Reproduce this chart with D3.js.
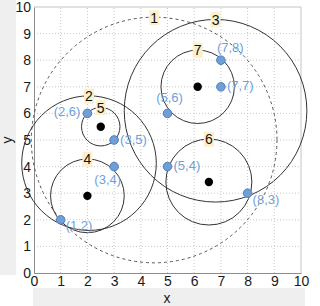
<!DOCTYPE html>
<html>
<head>
<meta charset="utf-8">
<script src="https://cdn.jsdelivr.net/npm/d3@7"></script>
<style>
  body { margin: 0; background: #fff; }
  svg { display: block; font-family: "Liberation Sans", Arial, sans-serif; }
</style>
</head>
<body>
<svg id="viz"></svg>
<script>
// points of the set
var pointX = [1, 2, 3, 3, 5, 5, 7, 7, 8];
var pointY = [2, 6, 5, 4, 6, 4, 8, 7, 3];
var pointSide = ['below-right', 'left', 'right', 'below', 'above', 'right', 'above-right', 'right', 'below-right'];

// circles, numbered in order
var circleId = [1, 2, 3, 4, 5, 6, 7];
var circleX = [4.5, 2.06, 6.8, 2.0, 2.5, 6.55, 6.13];
var circleY = [5.0, 4.13, 6.1, 2.9, 5.5, 3.42, 7.0];
var circleR = [4.6, 2.52, 3.42, 1.38, 0.72, 1.61, 1.375];
var withCenter = [4, 5, 6, 7];

var ticks = [0, 1, 2, 3, 4, 5, 6, 7, 8, 9, 10];

var width = 320, height = 306;
var margin = {top: 7, right: 19, bottom: 33, left: 34};

var svg = d3.select('#viz').attr('width', width).attr('height', height);

// grey strips around the panel
svg.append('rect').attr('x', 0).attr('y', 0).attr('width', 16).attr('height', 275).attr('fill', '#efefef');
svg.append('rect').attr('x', 33).attr('y', 288).attr('width', 272).attr('height', 18).attr('fill', '#efefef');

var x = d3.scaleLinear().domain([0, 10]).range([margin.left, width - margin.right]);
var y = d3.scaleLinear().domain([0, 10]).range([height - margin.bottom, margin.top]);
var unit = x(1) - x(0);

// grid
var grid = svg.append('g');
grid.selectAll('line.gx').data(ticks.slice(1, -1)).enter().append('line')
    .attr('x1', d => x(d)).attr('x2', d => x(d))
    .attr('y1', y(0)).attr('y2', y(10))
    .attr('stroke', '#c8c8c8').attr('stroke-dasharray', '1,2');
grid.selectAll('line.gy').data(ticks.slice(1, -1)).enter().append('line')
    .attr('y1', d => y(d)).attr('y2', d => y(d))
    .attr('x1', x(0)).attr('x2', x(10))
    .attr('stroke', '#c8c8c8').attr('stroke-dasharray', '1,2');

// panel border
svg.append('line').attr('x1', x(0)).attr('x2', x(10)).attr('y1', y(10)).attr('y2', y(10)).attr('stroke', '#c4c4c4');
svg.append('line').attr('x1', x(10)).attr('x2', x(10)).attr('y1', y(0)).attr('y2', y(10)).attr('stroke', '#c4c4c4');

var xAxis = svg.append('g').attr('transform', `translate(0,${y(0)})`)
    .call(d3.axisBottom(x).tickValues(ticks).tickSize(0).tickPadding(3));
var yAxis = svg.append('g').attr('transform', `translate(${x(0)},0)`)
    .call(d3.axisLeft(y).tickValues(ticks).tickSize(0).tickPadding(3));
[xAxis, yAxis].forEach(function(a){
    a.select('.domain').attr('stroke', '#8c8c8c');
    a.selectAll('text').attr('font-size', 14).attr('fill', '#1a1a1a').attr('font-family', '"Liberation Sans", Arial, sans-serif');
});

svg.append('text').attr('x', 167).attr('y', 303).attr('text-anchor', 'middle')
    .attr('font-size', 14).attr('fill', '#1a1a1a').text('x');
svg.append('text').attr('transform', `translate(12,${(y(0) + y(10)) / 2}) rotate(-90)`)
    .attr('text-anchor', 'middle').attr('font-size', 14).attr('fill', '#1a1a1a').text('y');

// circles
var circles = circleId.map((id, i) => ({id: id, cx: circleX[i], cy: circleY[i], r: circleR[i]}));
svg.append('g').selectAll('circle').data(circles).enter().append('circle')
    .attr('cx', d => x(d.cx)).attr('cy', d => y(d.cy)).attr('r', d => d.r * unit)
    .attr('fill', 'none')
    .attr('stroke', d => d.id === 1 ? '#555' : '#333')
    .attr('stroke-width', 1)
    .attr('stroke-dasharray', d => d.id === 1 ? '3,3' : null);

svg.append('g').selectAll('circle').data(circles.filter(d => withCenter.includes(d.id))).enter().append('circle')
    .attr('cx', d => x(d.cx)).attr('cy', d => y(d.cy)).attr('r', 4.2).attr('fill', '#000');

// points
var points = pointX.map((v, i) => ({x: v, y: pointY[i], side: pointSide[i]}));
svg.append('g').selectAll('circle').data(points).enter().append('circle')
    .attr('cx', d => x(d.x)).attr('cy', d => y(d.y)).attr('r', 4.3)
    .attr('fill', '#6f9fd6').attr('stroke', '#4f7fb8').attr('stroke-width', 1);

var place = {
    'left':        {dx: -7, dy: -2, anchor: 'end'},
    'right':       {dx: 6,  dy: -1, anchor: 'start'},
    'below':       {dx: 7,  dy: 13, anchor: 'end'},
    'below-right': {dx: 5,  dy: 6,  anchor: 'start'},
    'above':       {dx: 2,  dy: -16, anchor: 'middle'},
    'above-right': {dx: -4, dy: -13, anchor: 'start'}
};
svg.append('g').selectAll('text').data(points).enter().append('text')
    .attr('x', d => x(d.x) + place[d.side].dx)
    .attr('y', d => y(d.y) + place[d.side].dy)
    .attr('text-anchor', d => place[d.side].anchor)
    .attr('dominant-baseline', 'central')
    .attr('font-size', 13).attr('fill', '#6fa0da')
    .text(d => `(${d.x},${d.y})`);

// circle numbers at the top of each circle
var tags = svg.append('g').selectAll('g').data(circles).enter().append('g')
    .attr('transform', d => `translate(${x(d.cx)},${y(d.cy + d.r)})`);
tags.append('rect').attr('x', -5).attr('y', -7.5).attr('width', 10).attr('height', 15).attr('fill', '#fcefcb');
tags.append('text').attr('text-anchor', 'middle').attr('dominant-baseline', 'central')
    .attr('font-size', 14).attr('fill', '#111').text(d => d.id);
</script>
</body>
</html>
